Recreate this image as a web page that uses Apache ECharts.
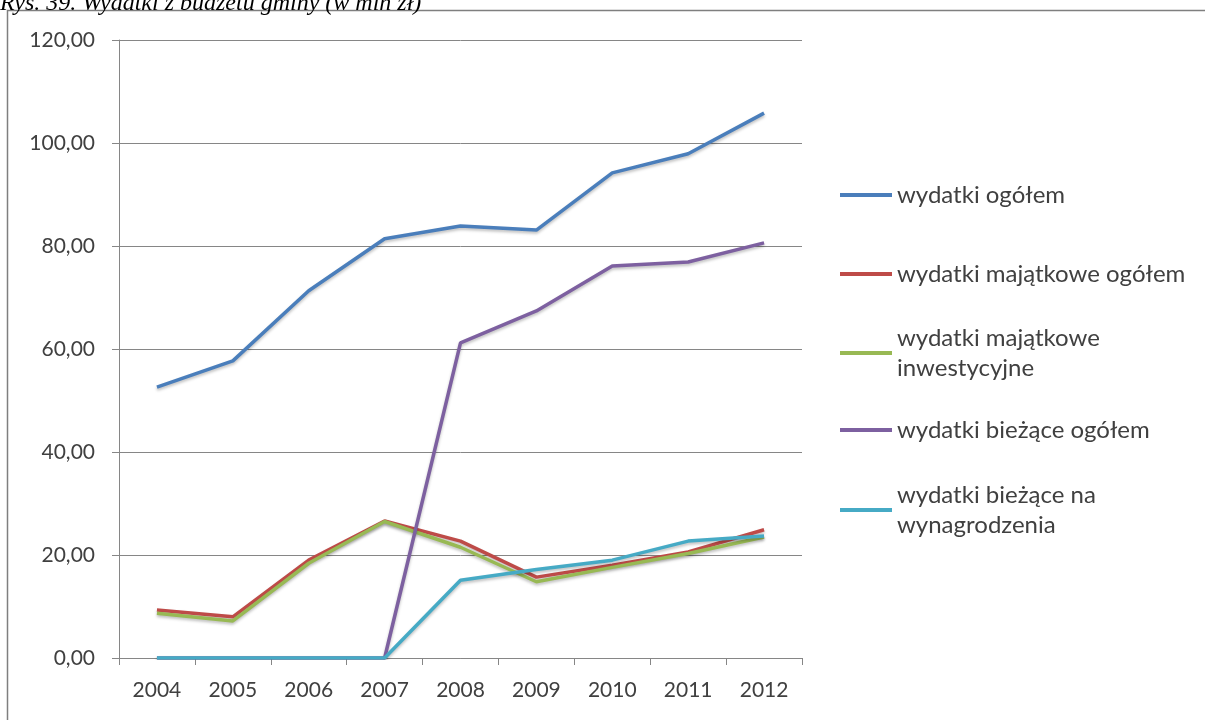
<!DOCTYPE html>
<html lang="pl" style="height: 100%">
<head>
  <meta charset="utf-8">
</head>
<body style="height: 100%; margin: 0; background: #fff">
  <div id="container" style="width: 1205px; height: 720px"></div>
  <script type="text/javascript" src="https://cdn.jsdelivr.net/npm/echarts@6/dist/echarts.min.js"></script>
  <script type="text/javascript">
    // lata
    var years = ['2004', '2005', '2006', '2007', '2008', '2009', '2010', '2011', '2012'];
    var yTicks = [0, 20, 40, 60, 80, 100, 120];

    var names = [
      'wydatki ogółem',
      'wydatki majątkowe ogółem',
      'wydatki majątkowe inwestycyjne',
      'wydatki bieżące ogółem',
      'wydatki bieżące na wynagrodzenia'
    ];
    var wydatkiOgolem = [52.6, 57.7, 71.3, 81.4, 83.9, 83.1, 94.2, 97.9, 105.8];
    var majatkoweOgolem = [9.3, 8.0, 19.0, 26.6, 22.7, 15.7, 18.0, 20.6, 24.9];
    var majatkoweInwest = [8.7, 7.2, 18.4, 26.5, 21.5, 14.8, 17.6, 20.3, 23.5];
    var biezaceOgolem = [0, 0, 0, 0, 61.2, 67.4, 76.1, 76.9, 80.6];
    var biezaceWynagr = [0, 0, 0, 0, 15.1, 17.2, 19.0, 22.7, 23.7];

    var colors = ['#4A7EBB', '#BE4B48', '#98B954', '#7D60A0', '#46AAC5'];
    var seriesData = [wydatkiOgolem, majatkoweOgolem, majatkoweInwest, biezaceOgolem, biezaceWynagr];

    var dom = document.getElementById('container');
    var myChart = echarts.init(dom, null, { renderer: 'canvas' });

    var font = 'Lato';
    var txtColor = '#404040';

    // legenda - osobny komponent dla kazdej pozycji, zeby trafic w odstepy
    var legendTops = [195, 274, 353, 430, 510];
    var legends = names.map(function (n, i) {
      var twoLine = (i === 2 || i === 4);
      return {
        data: [{ name: n, icon: 'rect' }],
        orient: 'vertical',
        left: 840,
        top: twoLine ? legendTops[i] - 45 : legendTops[i] - 15,
        itemWidth: 52,
        itemHeight: 4,
        itemGap: 0,
        padding: 0,
        selectedMode: false,
        formatter: function (name) {
          if (name === 'wydatki majątkowe inwestycyjne') return 'wydatki majątkowe\ninwestycyjne';
          if (name === 'wydatki bieżące na wynagrodzenia') return 'wydatki bieżące na\nwynagrodzenia';
          return name;
        },
        textStyle: {
          fontFamily: font,
          fontSize: 24,
          color: txtColor,
          lineHeight: 30,
          padding: twoLine ? [30, 0, 0, 0] : 0
        }
      };
    });

    var series = names.map(function (n, i) {
      return {
        name: n,
        type: 'line',
        data: seriesData[i],
        symbol: 'none',
        lineStyle: {
          color: colors[i],
          width: 3.5,
          shadowColor: 'rgba(0,0,0,0.25)',
          shadowBlur: 3,
          shadowOffsetY: 2
        },
        itemStyle: { color: colors[i] }
      };
    });

    var option = {
      animation: false,
      color: colors,
      graphic: [
        {
          type: 'rect',
          shape: { x: 7.5, y: 10.5, width: 1210, height: 720 },
          style: { fill: null, stroke: '#7f7f7f', lineWidth: 1.5 },
          silent: true
        },
        {
          type: 'text',
          left: 0,
          top: -8,
          style: {
            text: 'Rys. 39. Wydatki z budżetu gminy (w mln zł)',
            font: 'italic 24px "Liberation Serif"',
            fill: '#000'
          },
          silent: true
        }
      ],
      legend: legends,
      grid: {
        left: 119,
        right: 403,
        top: 40,
        bottom: 62
      },
      xAxis: {
        type: 'category',
        data: years,
        boundaryGap: true,
        axisLine: { lineStyle: { color: '#868686', width: 1 } },
        axisTick: { show: true, length: 7, lineStyle: { color: '#868686' } },
        axisLabel: {
          margin: 22,
          fontFamily: font,
          fontSize: 21,
          color: txtColor
        }
      },
      yAxis: {
        type: 'value',
        min: yTicks[0],
        max: yTicks[yTicks.length - 1],
        interval: 20,
        axisLine: { show: true, lineStyle: { color: '#868686', width: 1 } },
        axisTick: { show: true, length: 7, lineStyle: { color: '#868686' } },
        splitLine: { show: true, lineStyle: { color: '#868686', width: 1 } },
        axisLabel: {
          margin: 24,
          fontFamily: font,
          fontSize: 21,
          color: txtColor,
          formatter: function (v) {
            return v.toFixed(2).replace('.', ',');
          }
        }
      },
      series: series
    };

    if (option && typeof option === 'object') {
      myChart.setOption(option);
    }

    window.addEventListener('resize', myChart.resize);
  </script>
</body>
</html>
